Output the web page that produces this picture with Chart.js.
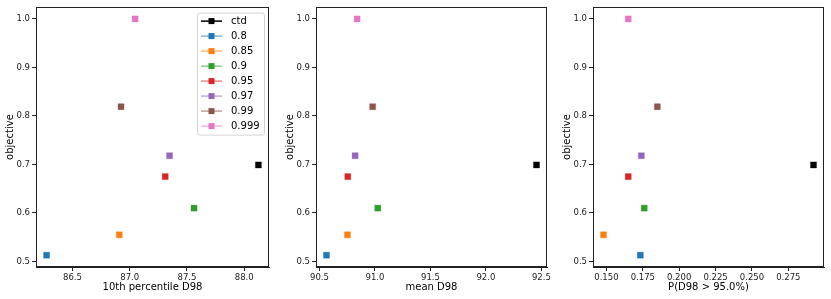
<!DOCTYPE html>
<html><head><meta charset="utf-8">
<script src="https://cdn.jsdelivr.net/npm/chart.js@4.4.1/dist/chart.umd.min.js"></script>
<style>
html,body{margin:0;padding:0;background:#fff;width:831px;height:299px;overflow:hidden}
canvas{position:absolute;top:0}
</style></head><body>
<canvas id="c1" width="275" height="299" style="left:0px"></canvas>
<canvas id="c2" width="275" height="299" style="left:280px"></canvas>
<canvas id="c3" width="274" height="299" style="left:557px"></canvas>
<script>
const seriesLabels = ['ctd','0.8','0.85','0.9','0.95','0.97','0.99','0.999'];
const seriesColors = ['#000000','#1f77b4','#ff7f0e','#2ca02c','#d62728','#9467bd','#8c564b','#e377c2'];
const objective = [0.699,0.513,0.555,0.610,0.675,0.718,0.819,1.000];
const p10D98  = [88.124,86.274,86.909,87.562,87.310,87.348,86.924,87.047];
const meanD98 = [92.456,90.563,90.752,91.025,90.755,90.821,90.979,90.839];
const probD98 = [0.2923,0.1733,0.1480,0.1760,0.1650,0.1740,0.1850,0.1650];
const yTicks  = [0.5,0.6,0.7,0.8,0.9,1.0];
const xTicks1 = [86.5,87.0,87.5,88.0];
const xTicks2 = [90.5,91.0,91.5,92.0,92.5];
const xTicks3 = [0.150,0.175,0.200,0.225,0.250,0.275];
const xTitles = ['10th percentile D98','mean D98','P(D98 > 95.0%)'];

Chart.defaults.font.family = '"DejaVu Sans", sans-serif';
Chart.defaults.animation = false;

function padRange(arr){
  const lo = Math.min(...arr), hi = Math.max(...arr), m = (hi-lo)*0.05;
  return [lo-m, hi+m];
}
function rgba(hex,a){
  const n = parseInt(hex.slice(1),16);
  return `rgba(${(n>>16)&255},${(n>>8)&255},${n&255},${a})`;
}

const framePlugin = {
  id:'frame',
  afterDraw(chart){
    const ca = chart.chartArea, ctx = chart.ctx;
    ctx.save();
    ctx.strokeStyle = '#222';
    ctx.lineWidth = 1;
    const l = Math.round(ca.left)+0.5, r = Math.round(ca.right)-0.5;
    const t = Math.round(ca.top)+0.5, b = Math.round(ca.bottom)-0.5;
    ctx.strokeRect(l, t, r-l, b-t);
    ctx.restore();
  }
};

const legendPlugin = {
  id:'boxLegend',
  afterDraw(chart){
    const ca = chart.chartArea, ctx = chart.ctx;
    const w = 67, h = 122;
    const x0 = ca.right - 5 - w, y0 = ca.top + 5.5;
    ctx.save();
    ctx.beginPath();
    if (ctx.roundRect) ctx.roundRect(x0+0.5, y0+0.5, w, h, 2.5); else ctx.rect(x0+0.5, y0+0.5, w, h);
    ctx.fillStyle = 'rgba(255,255,255,0.85)';
    ctx.fill();
    ctx.strokeStyle = '#d4d4d4';
    ctx.lineWidth = 1;
    ctx.stroke();
    ctx.font = '10px "DejaVu Sans"';
    ctx.textBaseline = 'middle';
    ctx.textAlign = 'left';
    chart.data.datasets.forEach((ds,i)=>{
      const cy = y0 + 8.5 + i*15;
      ctx.strokeStyle = i===0 ? ds.backgroundColor : rgba(ds.backgroundColor,0.55);
      ctx.lineWidth = 1.5;
      ctx.beginPath(); ctx.moveTo(x0+4, cy); ctx.lineTo(x0+25, cy); ctx.stroke();
      ctx.fillStyle = ds.backgroundColor;
      ctx.fillRect(x0+14.5-3, cy-3, 6, 6);
      ctx.fillStyle = '#000';
      ctx.fillText(ds.label, x0+34, cy+0.5);
    });
    ctx.restore();
  }
};

function makeChart(id, xVals, xTicks, xTitle, dec, padRight, withLegend){
  const [xmin,xmax] = padRange(xVals);
  const [ymin,ymax] = padRange(objective);
  const datasets = seriesLabels.map((lab,i)=>({
    label: lab,
    data: [{x: xVals[i], y: objective[i]}],
    backgroundColor: seriesColors[i],
    borderColor: rgba(seriesColors[i],0.3),
    borderWidth: 1,
    pointStyle: 'rect',
    pointRadius: 4.3,
    pointHoverRadius: 4.3,
    showLine: false
  }));
  const gridOpt = {display:true, drawOnChartArea:false, drawTicks:true, tickLength:4, color:'#222'};
  return new Chart(document.getElementById(id), {
    type: 'scatter',
    data: {datasets},
    options: {
      responsive: false,
      animation: false,
      layout: {padding: {top:5, right:padRight, bottom:0, left:0}},
      plugins: {legend:{display:false}, tooltip:{enabled:false}},
      scales: {
        x: {
          type:'linear', min:xmin, max:xmax,
          afterBuildTicks: s=>{ s.ticks = xTicks.map(v=>({value:v})); },
          afterFit: s=>{ s.height = 32; },
          ticks: {font:{size:8.5}, color:'#222', padding:2, maxRotation:0, autoSkip:false,
                  callback: v=>Number(v).toFixed(dec)},
          grid: gridOpt,
          border: {display:true, color:'#222'},
          title: {display:true, text:xTitle, font:{size:10}, color:'#000', padding:{top:0,bottom:6}}
        },
        y: {
          type:'linear', min:ymin, max:ymax,
          afterBuildTicks: s=>{ s.ticks = yTicks.map(v=>({value:v})); },
          afterFit: s=>{ s.width = 36; },
          ticks: {font:{size:8.5}, color:'#222', padding:2, autoSkip:false,
                  callback: v=>Number(v).toFixed(1)},
          grid: gridOpt,
          border: {display:true, color:'#222'},
          title: {display:true, text:'objective', font:{size:10}, color:'#000', padding:{top:4,bottom:0}}
        }
      }
    },
    plugins: withLegend ? [framePlugin, legendPlugin] : [framePlugin]
  });
}

makeChart('c1', p10D98, xTicks1, xTitles[0], 1, 6, true);
makeChart('c2', meanD98, xTicks2, xTitles[1], 1, 8, false);
makeChart('c3', probD98, xTicks3, xTitles[2], 3, 7, false);
</script>
</body></html>
